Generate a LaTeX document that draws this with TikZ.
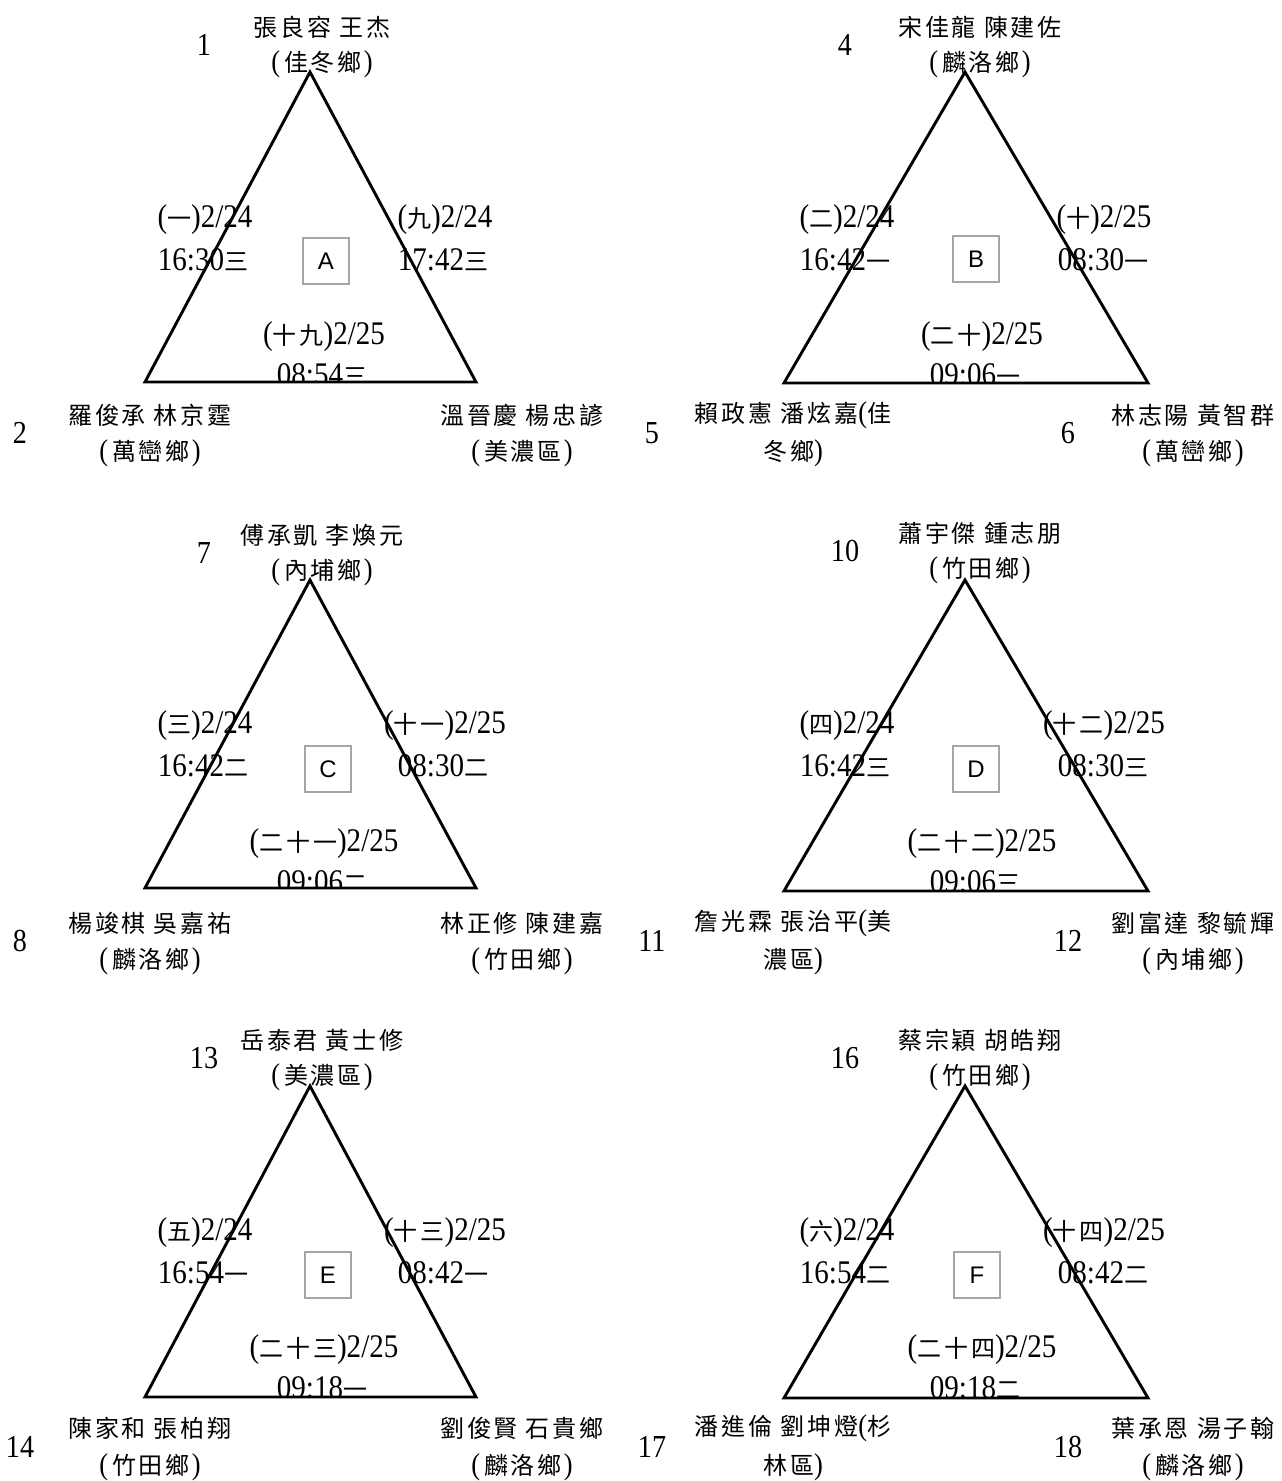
\documentclass[tikz,border=0pt]{standalone}
\usepackage{fontspec}
\setmainfont{Liberation Serif}
\newfontfamily\cjk[LetterSpace=12]{Noto Sans CJK TC}
\newfontfamily\numf[FakeStretch=0.88]{Liberation Serif}
\newfontfamily\boxf{Liberation Sans}
\newcommand\zh[1]{{\fontsize{24}{28}\selectfont\cjk #1}}
\newcommand\rz[1]{(\hspace{4pt}\zh{#1}\hspace{2pt})}
\newcommand\lpar{{\fontsize{30}{34}\selectfont\numf(}}
\newcommand\rpar{{\fontsize{30}{34}\selectfont\numf)}}
\newcommand\sep{\hspace{8pt}}
\tikzset{
  tri/.style={line width=2.9pt, line join=miter},
  nm/.style={inner sep=0pt, font=\fontsize{24}{28}\selectfont\cjk},
  rg/.style={inner sep=0pt, font=\fontsize{30}{34}\selectfont\numf},
  mt/.style={inner sep=0pt, font=\fontsize{33}{36}\selectfont\numf},
  idx/.style={inner sep=0pt, font=\fontsize{32}{36}\selectfont\numf},
  grp/.style={draw=black!35, line width=1.3pt, minimum width=46pt, minimum height=46pt, inner sep=0pt, font=\fontsize{24}{26}\selectfont\boxf},
}
\begin{document}
\begin{tikzpicture}[x=1pt,y=-1pt]
\fill[white] (0,0) rectangle (1282,1481);
\useasboundingbox (0,0) rectangle (1282,1481);

% ---------------- Panel A ----------------
\begin{scope}[shift={(310,72)}]
\coordinate (A-t) at (0,0); \coordinate (A-l) at (-165,310); \coordinate (A-r) at (166,310);
\node[idx] (A-n1) at (-106,-27) {1};
\node[nm] (A-topn) at (12,-45) {張良容\sep 王杰};
\node[rg] (A-topr) at (12,-8) {\rz{佳冬鄉}};
\node[idx] (A-n2) at (-290,361) {2};
\node[nm] (A-bln) at (-160,343) {羅俊承\sep 林京霆};
\node[rg] (A-blr) at (-160,381) {\rz{萬巒鄉}};
\node[nm] (A-brn) at (212,343) {溫晉慶\sep 楊忠諺};
\node[rg] (A-brr) at (212,381) {\rz{美濃區}};
\node[mt] (A-l1) at (-105,148) {(\zh{一})2/24};
\node[mt] (A-l2) at (-107,188) {16:30\zh{三}};
\node[mt] (A-r1) at (135,148) {(\zh{九})2/24};
\node[mt] (A-r2) at (133,188) {17:42\zh{三}};
\node[mt] (A-b1) at (14,265) {(\zh{十九})2/25};
\begin{scope}\clip (-120,260) rectangle (140,310);
\node[mt] (A-b2) at (12,303) {08:54\zh{三}};
\end{scope}
\node[grp] (A-box) at (16,189) {A};
\draw[tri] (A-t) -- (A-l) -- (A-r) -- cycle;
\end{scope}

% ---------------- Panel B ----------------
\begin{scope}[shift={(965,72)}]
\coordinate (B-t) at (0,0); \coordinate (B-l) at (-181,311); \coordinate (B-r) at (183,311);
\node[idx] (B-n1) at (-120,-27) {4};
\node[nm] (B-topn) at (15,-45) {宋佳龍\sep 陳建佐};
\node[rg] (B-topr) at (15,-8) {\rz{麟洛鄉}};
\node[idx] (B-n2) at (-313,361) {5};
\node[nm] (B-bln) at (-172,343) {賴政憲\sep 潘炫嘉\lpar 佳};
\node[nm] (B-blr) at (-172,381) {冬鄉\rpar};
\node[idx] (B-n3) at (103,361) {6};
\node[nm] (B-brn) at (228,343) {林志陽\sep 黃智群};
\node[rg] (B-brr) at (228,381) {\rz{萬巒鄉}};
\node[mt] (B-l1) at (-118,148) {(\zh{二})2/24};
\node[mt] (B-l2) at (-120,188) {16:42\zh{一}};
\node[mt] (B-r1) at (139,148) {(\zh{十})2/25};
\node[mt] (B-r2) at (138,188) {08:30\zh{一}};
\node[mt] (B-b1) at (17,265) {(\zh{二十})2/25};
\begin{scope}\clip (-130,260) rectangle (150,311);
\node[mt] (B-b2) at (10,303) {09:06\zh{一}};
\end{scope}
\node[grp] (B-box) at (11,187) {B};
\draw[tri] (B-t) -- (B-l) -- (B-r) -- cycle;
\end{scope}

% ---------------- Panel C ----------------
\begin{scope}[shift={(310,580)}]
\coordinate (C-t) at (0,0); \coordinate (C-l) at (-165,308); \coordinate (C-r) at (166,308);
\node[idx] (C-n1) at (-106,-27) {7};
\node[nm] (C-topn) at (12,-45) {傅承凱\sep 李煥元};
\node[rg] (C-topr) at (12,-8) {\rz{內埔鄉}};
\node[idx] (C-n2) at (-290,361) {8};
\node[nm] (C-bln) at (-160,343) {楊竣棋\sep 吳嘉祐};
\node[rg] (C-blr) at (-160,381) {\rz{麟洛鄉}};
\node[nm] (C-brn) at (212,343) {林正修\sep 陳建嘉};
\node[rg] (C-brr) at (212,381) {\rz{竹田鄉}};
\node[mt] (C-l1) at (-105,146) {(\zh{三})2/24};
\node[mt] (C-l2) at (-107,186) {16:42\zh{二}};
\node[mt] (C-r1) at (135,146) {(\zh{十一})2/25};
\node[mt] (C-r2) at (133,186) {08:30\zh{二}};
\node[mt] (C-b1) at (14,264) {(\zh{二十一})2/25};
\begin{scope}\clip (-130,258) rectangle (150,308);
\node[mt] (C-b2) at (12,302) {09:06\zh{二}};
\end{scope}
\node[grp] (C-box) at (18,189) {C};
\draw[tri] (C-t) -- (C-l) -- (C-r) -- cycle;
\end{scope}

% ---------------- Panel D ----------------
\begin{scope}[shift={(965,580)}]
\coordinate (D-t) at (0,0); \coordinate (D-l) at (-181,311); \coordinate (D-r) at (183,311);
\node[idx] (D-n1) at (-120,-29) {10};
\node[nm] (D-topn) at (15,-47) {蕭宇傑\sep 鍾志朋};
\node[rg] (D-topr) at (15,-10) {\rz{竹田鄉}};
\node[idx] (D-n2) at (-313,361) {11};
\node[nm] (D-bln) at (-172,343) {詹光霖\sep 張治平\lpar 美};
\node[nm] (D-blr) at (-172,381) {濃區\rpar};
\node[idx] (D-n3) at (103,361) {12};
\node[nm] (D-brn) at (228,343) {劉富達\sep 黎毓輝};
\node[rg] (D-brr) at (228,381) {\rz{內埔鄉}};
\node[mt] (D-l1) at (-118,146) {(\zh{四})2/24};
\node[mt] (D-l2) at (-120,186) {16:42\zh{三}};
\node[mt] (D-r1) at (139,146) {(\zh{十二})2/25};
\node[mt] (D-r2) at (138,186) {08:30\zh{三}};
\node[mt] (D-b1) at (17,264) {(\zh{二十二})2/25};
\begin{scope}\clip (-130,258) rectangle (150,311);
\node[mt] (D-b2) at (10,302) {09:06\zh{三}};
\end{scope}
\node[grp] (D-box) at (11,189) {D};
\draw[tri] (D-t) -- (D-l) -- (D-r) -- cycle;
\end{scope}

% ---------------- Panel E ----------------
\begin{scope}[shift={(310,1086)}]
\coordinate (E-t) at (0,0); \coordinate (E-l) at (-165,311); \coordinate (E-r) at (166,311);
\node[idx] (E-n1) at (-106,-28) {13};
\node[nm] (E-topn) at (12,-46) {岳泰君\sep 黃士修};
\node[rg] (E-topr) at (12,-9) {\rz{美濃區}};
\node[idx] (E-n2) at (-290,361) {14};
\node[nm] (E-bln) at (-160,342) {陳家和\sep 張柏翔};
\node[rg] (E-blr) at (-160,381) {\rz{竹田鄉}};
\node[nm] (E-brn) at (212,342) {劉俊賢\sep 石貴鄉};
\node[rg] (E-brr) at (212,381) {\rz{麟洛鄉}};
\node[mt] (E-l1) at (-105,147) {(\zh{五})2/24};
\node[mt] (E-l2) at (-107,187) {16:54\zh{一}};
\node[mt] (E-r1) at (135,147) {(\zh{十三})2/25};
\node[mt] (E-r2) at (133,187) {08:42\zh{一}};
\node[mt] (E-b1) at (14,264) {(\zh{二十三})2/25};
\begin{scope}\clip (-130,258) rectangle (150,311);
\node[mt] (E-b2) at (12,302) {09:18\zh{一}};
\end{scope}
\node[grp] (E-box) at (18,189) {E};
\draw[tri] (E-t) -- (E-l) -- (E-r) -- cycle;
\end{scope}

% ---------------- Panel F ----------------
\begin{scope}[shift={(965,1086)}]
\coordinate (F-t) at (0,0); \coordinate (F-l) at (-181,312); \coordinate (F-r) at (183,312);
\node[idx] (F-n1) at (-120,-28) {16};
\node[nm] (F-topn) at (15,-46) {蔡宗穎\sep 胡皓翔};
\node[rg] (F-topr) at (15,-9) {\rz{竹田鄉}};
\node[idx] (F-n2) at (-313,361) {17};
\node[nm] (F-bln) at (-172,342) {潘進倫\sep 劉坤燈\lpar 杉};
\node[nm] (F-blr) at (-172,381) {林區\rpar};
\node[idx] (F-n3) at (103,361) {18};
\node[nm] (F-brn) at (228,342) {葉承恩\sep 湯子翰};
\node[rg] (F-brr) at (228,381) {\rz{麟洛鄉}};
\node[mt] (F-l1) at (-118,147) {(\zh{六})2/24};
\node[mt] (F-l2) at (-120,187) {16:54\zh{二}};
\node[mt] (F-r1) at (139,147) {(\zh{十四})2/25};
\node[mt] (F-r2) at (138,187) {08:42\zh{二}};
\node[mt] (F-b1) at (17,264) {(\zh{二十四})2/25};
\begin{scope}\clip (-130,258) rectangle (150,312);
\node[mt] (F-b2) at (10,302) {09:18\zh{二}};
\end{scope}
\node[grp] (F-box) at (12,189) {F};
\draw[tri] (F-t) -- (F-l) -- (F-r) -- cycle;
\end{scope}
\end{tikzpicture}
\end{document}
